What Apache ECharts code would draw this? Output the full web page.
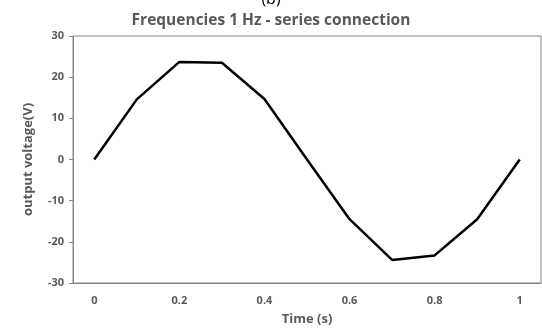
<!DOCTYPE html>
<html>
<head>
<meta charset="utf-8">
<script src="https://cdn.jsdelivr.net/npm/echarts@6/dist/echarts.min.js"></script>
<style>
  html, body { margin: 0; padding: 0; background: #fff; }
  #chart { width: 542px; height: 336px; }
</style>
</head>
<body>
<div id="chart"></div>
<script>
// 数据
const times = ['0', '0.1', '0.2', '0.3', '0.4', '0.5', '0.6', '0.7', '0.8', '0.9', '1'];
const voltage = [0, 14.6, 23.7, 23.5, 14.7, 0, -14.5, -24.4, -23.3, -14.5, 0];
const yTicks = { min: -30, max: 30, step: 10 };

const grey = '#595959';
const font = '"Open Sans", "Liberation Sans", sans-serif';

const chart = echarts.init(document.getElementById('chart'));
chart.setOption({
	animation: false,
	title: [
		{
			text: '(b)',
			left: 'center',
			top: -14,
			textStyle: { fontFamily: font, fontSize: 16, fontWeight: 'normal', color: '#000' }
		},
		{
			text: 'Frequencies 1 Hz - series connection',
			left: 'center',
			top: 8,
			textStyle: { fontFamily: font, fontSize: 15.5, fontWeight: 'bold', color: grey }
		}
	],
	grid: {
		left: 73, right: 1, top: 36, bottom: 53,
		show: true, borderColor: '#868686', borderWidth: 1
	},
	xAxis: {
		type: 'category',
		data: times,
		boundaryGap: true,
		name: 'Time (s)',
		nameLocation: 'middle',
		nameGap: 30,
		nameTextStyle: { fontFamily: font, fontSize: 13, fontWeight: 'bold', color: grey },
		axisLine: { onZero: false, lineStyle: { color: '#868686' } },
		axisTick: { interval: 0, alignWithLabel: true, length: 4, lineStyle: { color: '#868686' } },
		axisLabel: { interval: 1, margin: 12, fontFamily: font, fontSize: 11, fontWeight: 'bold', color: grey }
	},
	yAxis: {
		type: 'value',
		min: yTicks.min,
		max: yTicks.max,
		interval: yTicks.step,
		name: 'output voltage(V)',
		nameLocation: 'middle',
		nameGap: 38,
		nameTextStyle: { fontFamily: font, fontSize: 13, fontWeight: 'bold', color: grey },
		splitLine: { show: false },
		axisLine: { show: true, lineStyle: { color: '#868686' } },
		axisTick: { show: true, length: 4, lineStyle: { color: '#868686' } },
		axisLabel: { margin: 9, fontFamily: font, fontSize: 11, fontWeight: 'bold', color: grey }
	},
	series: [{
		type: 'line',
		data: voltage,
		showSymbol: false,
		lineStyle: { color: '#000', width: 2.5 }
	}]
});
</script>
</body>
</html>
